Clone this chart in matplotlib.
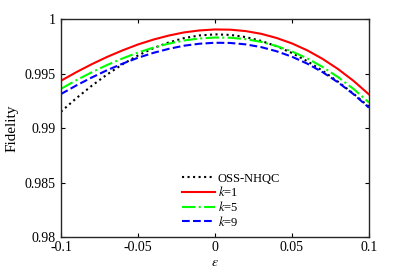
import matplotlib
matplotlib.use("Agg")
import matplotlib.pyplot as plt

eps = [-0.1, -0.09, -0.08, -0.07, -0.06, -0.05, -0.04, -0.03, -0.02, -0.01, 0.0,
       0.01, 0.02, 0.03, 0.04, 0.05, 0.06, 0.07, 0.08, 0.09, 0.1]
oss = [0.99150, 0.99274, 0.99388, 0.99492, 0.99585, 0.99666, 0.99733, 0.99786, 0.99826, 0.99850, 0.99860,
       0.99855, 0.99835, 0.99800, 0.99751, 0.99689, 0.99613, 0.99525, 0.99425, 0.99315, 0.99196]
k1 = [0.99434, 0.99513, 0.99586, 0.99653, 0.99713, 0.99767, 0.99812, 0.99849, 0.99878, 0.99896, 0.99905,
      0.99903, 0.99890, 0.99865, 0.99827, 0.99777, 0.99713, 0.99634, 0.99541, 0.99433, 0.99309]
k5 = [0.99360, 0.99439, 0.99512, 0.99579, 0.99639, 0.99693, 0.99738, 0.99775, 0.99804, 0.99822, 0.99831,
      0.99829, 0.99816, 0.99791, 0.99753, 0.99703, 0.99639, 0.99560, 0.99467, 0.99359, 0.99235]
k9 = [0.99312, 0.99391, 0.99464, 0.99531, 0.99591, 0.99645, 0.99690, 0.99727, 0.99756, 0.99774, 0.99783,
      0.99781, 0.99768, 0.99743, 0.99705, 0.99655, 0.99591, 0.99512, 0.99419, 0.99311, 0.99187]

xticks = [-0.1, -0.05, 0, 0.05, 0.1]
xticklabels = ["-0.1", "-0.05", "0", "0.05", "0.1"]
yticks = [0.98, 0.985, 0.99, 0.995, 1.0]
yticklabels = ["0.98", "0.985", "0.99", "0.995", "1"]

plt.rcParams['font.family'] = ['Liberation Serif', 'DejaVu Serif']
plt.rcParams['mathtext.fontset'] = 'stix'

fig = plt.figure(figsize=(4.09, 2.73), dpi=100)
ax = fig.add_axes([0.149, 0.132, 0.753, 0.798])

ax.plot(eps, oss, color='k', linestyle=':', lw=1.5, label='OSS-NHQC')
ax.plot(eps, k1, color='r', linestyle='-', lw=1.5, label='$k$=1')
ax.plot(eps, k5, color=(0, 1, 0), linestyle='-.', lw=1.5, label='$k$=5')
ax.plot(eps, k9, color='b', linestyle='--', lw=1.5, label='$k$=9')

ax.set_xlim(-0.1, 0.1)
ax.set_ylim(0.98, 1.0)
ax.set_xticks(xticks)
ax.set_xticklabels(xticklabels)
ax.set_yticks(yticks)
ax.set_yticklabels(yticklabels)
ax.tick_params(direction='in', top=True, right=True, labelsize=10, length=3, width=0.8)
ax.tick_params(axis='y', pad=4)
ax.tick_params(axis='x', pad=3)
for s in ax.spines.values():
    s.set_linewidth(1.0)
    s.set_color('#262626')

ax.set_xlabel('$\\epsilon$', fontsize=10, labelpad=1)
ax.set_ylabel('Fidelity', fontsize=11, labelpad=4)

ax.legend(loc='upper left', bbox_to_anchor=(0.365, 0.335), frameon=False, fontsize=9,
          handlelength=2.6, handletextpad=0.25, labelspacing=0.05, borderpad=0.2)

fig.savefig('out.png', dpi=100)
